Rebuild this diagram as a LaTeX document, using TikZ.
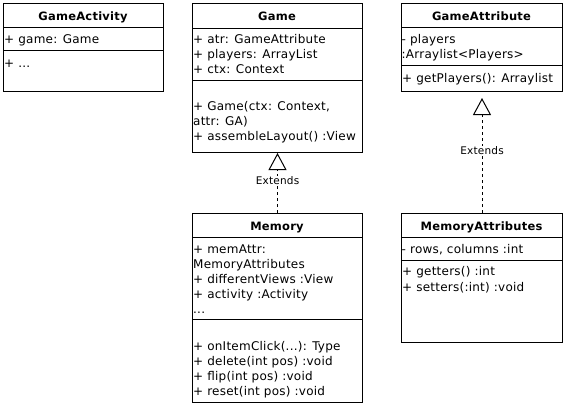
\documentclass[tikz,border=0pt]{standalone}
\usepackage{fontspec}
\setmainfont{DejaVu Sans}[LetterSpace=2]
\usetikzlibrary{arrows.meta}
\begin{document}
\begin{tikzpicture}[x=1pt,y=-1pt,
  box/.style={draw, line width=1pt, fill=white, inner sep=0pt, anchor=north west},
  txt/.style={anchor=base west, inner sep=0pt, font=\fontsize{12}{14}\selectfont},
  ttl/.style={anchor=base, inner sep=0pt, font=\fontsize{11.5}{13}\selectfont\bfseries},
  sepline/.style={line width=0.8pt},
  ext/.style={line width=1pt, dash pattern=on 3pt off 3pt,
    -{Triangle[fill=white, length=17pt, width=18pt, line width=1pt]}},
  lbl/.style={fill=white, inner sep=1pt, font=\fontsize{10.5}{12}\selectfont}]
\useasboundingbox (0,0) rectangle (564,404);
\fill[white] (0,0) rectangle (564,404);

% ---------- GameActivity ----------
\node[box, minimum width=160pt, minimum height=88pt] (gact) at (3,3) {};
\node[ttl] (gactT) at (83,20.5) {GameActivity};
\draw[sepline] (3,27) -- (163,27);
\draw[sepline] (3,50) -- (163,50);
\node[txt] (gact1) at (4,44) {+ game: Game};
\node[txt] (gact2) at (4,67) {+ ...};

% ---------- Game ----------
\node[box, minimum width=170pt, minimum height=149pt] (game) at (192,3) {};
\node[ttl] (gameT) at (277,20.5) {Game};
\draw[sepline] (192,28) -- (362,28);
\draw[sepline] (192,80) -- (362,80);
\node[txt] (game1) at (193,43.5) {+ atr: GameAttribute};
\node[txt] (game2) at (193,58.5) {+ players: ArrayList};
\node[txt] (game3) at (193,73.5) {+ ctx: Context};
\node[txt] (game4) at (193,110.5) {+ Game(ctx: Context,};
\node[txt] (game5) at (193,125.5) {attr: GA)};
\node[txt] (game6) at (193,140.5) {+ assembleLayout() :View};

% ---------- GameAttribute ----------
\node[box, minimum width=161pt, minimum height=88pt] (gattr) at (401,3) {};
\node[ttl] (gattrT) at (481.5,20.5) {GameAttribute};
\draw[sepline] (401,27) -- (562,27);
\draw[sepline] (401,65) -- (562,65);
\node[txt] (gattr1) at (401.5,43.5) {- players};
\node[txt] (gattr2) at (401.5,58.5) {:Arraylist<Players>};
\node[txt] (gattr3) at (402,82) {+ getPlayers(): Arraylist};

% ---------- Memory ----------
\node[box, minimum width=170pt, minimum height=189pt] (mem) at (192,213) {};
\node[ttl] (memT) at (277,230.5) {Memory};
\draw[sepline] (192,237) -- (362,237);
\draw[sepline] (192,319) -- (362,319);
\node[txt] (mem1) at (193,253.5) {+ memAttr:};
\node[txt] (mem2) at (193,268.5) {MemoryAttributes};
\node[txt] (mem3) at (193,283.5) {+ differentViews :View};
\node[txt] (mem4) at (193,298.5) {+ activity :Activity};
\node[txt] (mem5) at (193,313.5) {...};
\node[txt] (mem6) at (193,350.5) {+ onItemClick(...): Type};
\node[txt] (mem7) at (193,365.5) {+ delete(int pos) :void};
\node[txt] (mem8) at (193,380.5) {+ flip(int pos) :void};
\node[txt] (mem9) at (193,395.5) {+ reset(int pos) :void};

% ---------- MemoryAttributes ----------
\node[box, minimum width=161pt, minimum height=129pt] (mattr) at (401,213) {};
\node[ttl] (mattrT) at (481.5,230.5) {MemoryAttributes};
\draw[sepline] (401,237) -- (562,237);
\draw[sepline] (401,260) -- (562,260);
\node[txt] (mattr1) at (401.5,253.5) {- rows, columns :int};
\node[txt] (mattr2) at (402,275.5) {+ getters() :int};
\node[txt] (mattr3) at (402,291) {+ setters(:int) :void};

% ---------- Generalisations ----------
\draw[ext] (mem.north) -- (game.south)
  node[lbl, pos=0.54] (ext1) {Extends};
\draw[ext, shorten >=6pt] (mattr.north) -- (gattr.south)
  node[lbl, pos=0.516] (ext2) {Extends};
\end{tikzpicture}
\end{document}
